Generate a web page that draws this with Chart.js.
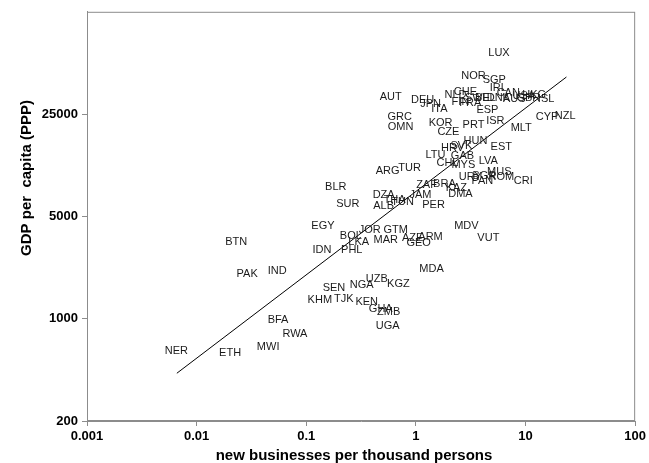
<!DOCTYPE html>
<html lang="en">
<head>
<meta charset="UTF-8">
<title>GDP per capita vs new businesses</title>
<script src="https://cdn.jsdelivr.net/npm/chart.js"></script>
<style>
  html, body { margin: 0; padding: 0; background: #fff; }
  #wrap { width: 649px; height: 463px; }
</style>
</head>
<body>
<div id="wrap"><canvas id="chart"></canvas></div>
<script>
  // country codes, new businesses per thousand persons, GDP per capita (PPP)
  const countries = ['LUX','NOR','SGP','IRL','AUT','DEU','JPN','ITA','NLD','CHE','FIN','FRA','SWE','BEL','DNK','CAN','AUS','USA','GBR','HKG','ISL',
    'ESP','GRC','OMN','KOR','CZE','PRT','ISR','MLT','CYP','NZL','HUN','EST','HRV','SVK','LTU','GAB','CHL','MYS','LVA','TUR','ARG','MUS','CRI',
    'ROM','URY','BGR','PAN','ZAF','BRA','KAZ','DMA','JAM','PER','DZA','ALB','THA','TUN','BLR','SUR','EGY','JOR','GTM','MDV','VUT','BOL','LKA',
    'MAR','AZE','ARM','GEO','IDN','PHL','MDA','UZB','KGZ','NGA','SEN','KHM','TJK','KEN','GHA','ZMB','UGA','BFA','RWA','MWI','PAK','IND','BTN','NER','ETH'];
  const newBiz = [5.73,3.35,5.19,5.65,0.589,1.15,1.36,1.64,2.30,2.83,2.55,3.14,3.64,4.30,5.65,6.96,7.89,9.66,10.6,12.0,15.4,
    4.49,0.711,0.726,1.68,1.98,3.35,5.30,9.14,15.7,23.0,3.49,6.01,2.16,2.60,1.51,2.66,1.94,2.71,4.58,0.877,0.553,5.77,9.53,
    6.01,3.14,4.22,4.04,1.25,1.82,2.34,2.55,1.10,1.45,0.508,0.508,0.640,0.757,0.186,0.239,0.142,0.379,0.653,2.89,4.58,0.255,0.301,
    0.531,0.933,1.36,1.06,0.139,0.260,1.39,0.440,0.692,0.321,0.179,0.133,0.220,0.356,0.478,0.565,0.553,0.0553,0.0788,0.0449,0.0289,0.0542,0.0230,0.00654,0.0202];
  const gdp = [65800,45900,42600,37600,32700,31200,29300,27100,33700,35300,30200,29800,32200,32200,32200,34800,31700,33200,32200,33700,31700,
    26700,23900,20500,21800,19000,21100,22500,20200,23900,24300,16500,15000,14600,15200,13100,12900,11500,11200,11900,10700,10200,10000,8730,
    9270,9270,9420,8730,8190,8320,7820,7130,7020,6010,7020,5920,6490,6300,7950,6100,4330,4070,4010,4270,3540,3650,3330,
    3430,3540,3600,3280,2940,2940,2190,1870,1730,1710,1630,1350,1370,1310,1160,1120,889,975,785,641,2020,2120,3330,603,585];

  // fitted line end points
  const trendX = [0.0066, 23.6];
  const trendY = [424, 44800];

  const xTicks = [0.001, 0.01, 0.1, 1, 10, 100];
  const yTicks = [200, 1000, 5000, 25000];

  const xTitle = 'new businesses per thousand persons';
  const yTitle = 'GDP per  capita (PPP)';

  const family = '"Liberation Sans", Arial, sans-serif';
  const labelFont = '11px ' + family;
  const tickFont = { family: family, size: 13, weight: 'bold' };
  const titleFont = 'bold 15px ' + family;

  // plot frame, drawn under the labels
  const framePlugin = {
    id: 'frame',
    beforeDatasetsDraw(chart) {
      const { ctx, chartArea: a } = chart;
      ctx.save();
      ctx.strokeStyle = '#8c8c8c';
      ctx.lineWidth = 1;
      ctx.strokeRect(a.left + 0.5, a.top + 0.5, a.right - a.left - 1, a.bottom - a.top - 1);
      ctx.restore();
    }
  };

  // country codes written at each point + axis titles
  const labelPlugin = {
    id: 'countryLabels',
    afterDatasetsDraw(chart) {
      const ctx = chart.ctx;
      const meta = chart.getDatasetMeta(0);
      ctx.save();
      ctx.font = labelFont;
      ctx.fillStyle = '#1a1a1a';
      ctx.textAlign = 'center';
      ctx.textBaseline = 'middle';
      meta.data.forEach((pt, i) => ctx.fillText(countries[i], pt.x, pt.y));
      ctx.restore();
    },
    afterDraw(chart) {
      const ctx = chart.ctx;
      ctx.save();
      ctx.font = titleFont;
      ctx.fillStyle = '#000';
      ctx.textAlign = 'center';
      ctx.textBaseline = 'middle';
      ctx.fillText(xTitle, 354, 456);
      ctx.translate(27, 178);
      ctx.rotate(-Math.PI / 2);
      ctx.fillText(yTitle, 0, 0);
      ctx.restore();
    }
  };

  new Chart(document.getElementById('chart'), {
    type: 'scatter',
    data: {
      datasets: [{
        data: countries.map((c, i) => ({ x: newBiz[i], y: gdp[i] })),
        pointRadius: 0,
        pointHoverRadius: 0
      }, {
        data: trendX.map((x, i) => ({ x: x, y: trendY[i] })),
        showLine: true,
        borderColor: '#000',
        borderWidth: 1,
        pointRadius: 0
      }]
    },
    options: {
      responsive: true,
      maintainAspectRatio: false,
      animation: false,
      events: [],
      layout: { padding: { top: 8, right: 11, bottom: 0, left: 0 } },
      plugins: { legend: { display: false }, tooltip: { enabled: false } },
      scales: {
        x: {
          type: 'logarithmic',
          min: 0.001,
          max: 100,
          afterBuildTicks: s => { s.ticks = xTicks.map(v => ({ value: v })); },
          afterFit: s => { s.height = 42; },
          ticks: {
            callback: v => String(v),
            autoSkip: false,
            maxRotation: 0,
            padding: 3,
            color: '#000',
            font: tickFont
          },
          grid: { drawOnChartArea: false, drawTicks: true, tickLength: 5, color: '#8c8c8c' },
          border: { color: '#8c8c8c', width: 1 }
        },
        y: {
          type: 'logarithmic',
          min: 200,
          max: 125000,
          afterBuildTicks: s => { s.ticks = yTicks.map(v => ({ value: v })); },
          afterFit: s => { s.width = 87; },
          ticks: {
            callback: v => String(v),
            autoSkip: false,
            padding: 4,
            color: '#000',
            font: tickFont
          },
          grid: { drawOnChartArea: false, drawTicks: true, tickLength: 5, color: '#8c8c8c' },
          border: { color: '#8c8c8c', width: 1 }
        }
      }
    },
    plugins: [framePlugin, labelPlugin]
  });
</script>
</body>
</html>
